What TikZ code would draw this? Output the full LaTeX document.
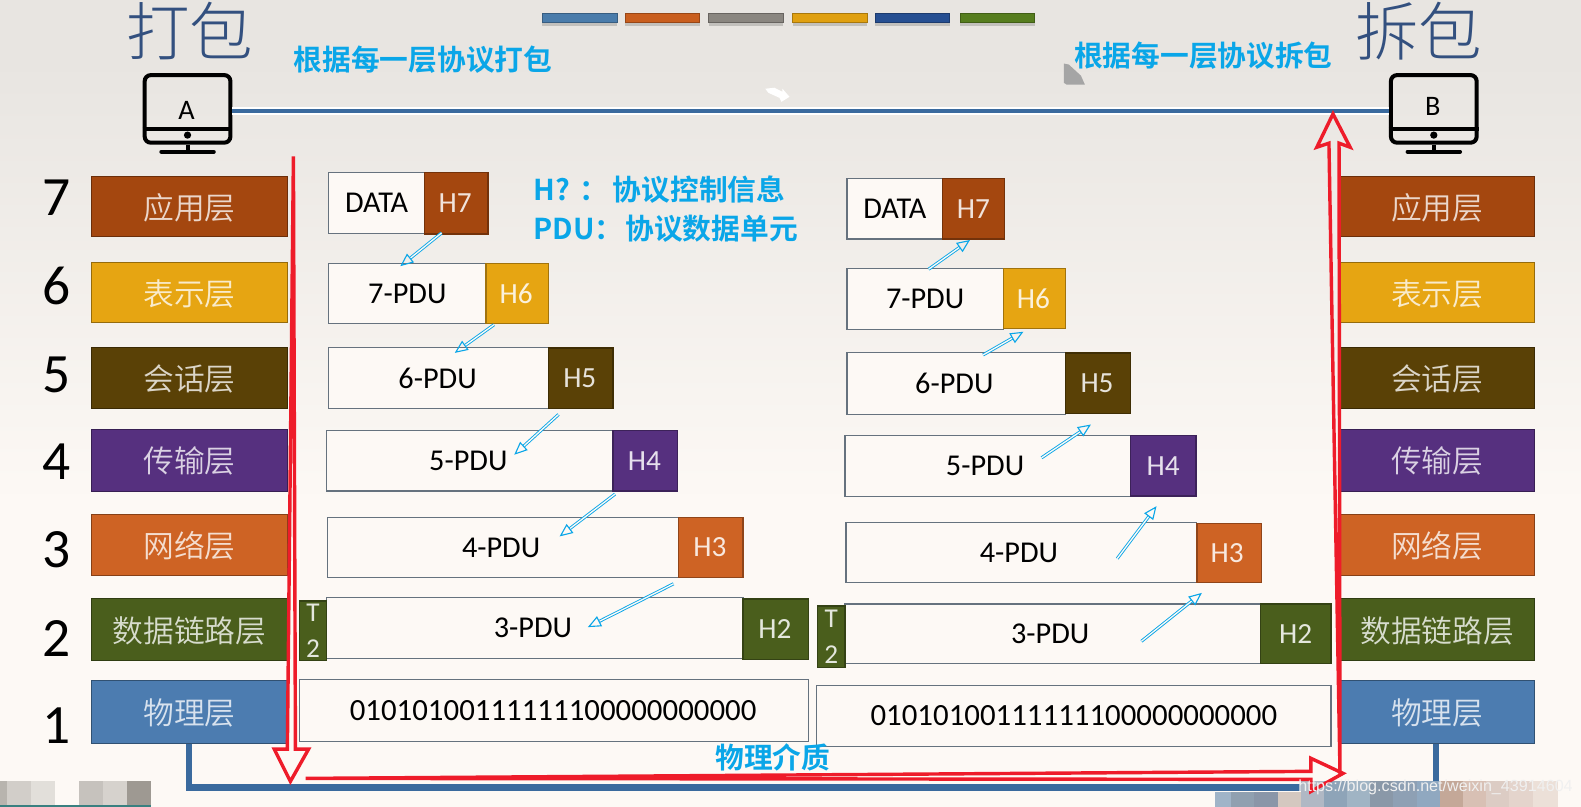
\documentclass[tikz,border=0pt]{standalone}
\usepackage{fontspec}
\usetikzlibrary{arrows.meta}
\setmainfont{Carlito}
\newfontfamily\cjk{Noto Sans CJK SC Light}
\newfontfamily\cjkm{Noto Sans CJK SC DemiLight}
\newfontfamily\cjkb{Noto Sans CJK SC Bold}
\newfontfamily\wm{Liberation Sans}
\definecolor{bgtop}{HTML}{E8E5E1}
\definecolor{bgbot}{HTML}{FDF9F5}
\definecolor{cApp}{HTML}{A4470F}
\definecolor{cPre}{HTML}{E6A512}
\definecolor{cSes}{HTML}{5A4106}
\definecolor{cTra}{HTML}{56307F}
\definecolor{cNet}{HTML}{CE6324}
\definecolor{cDat}{HTML}{4A5E1C}
\definecolor{cPhy}{HTML}{4C7CB0}
\definecolor{cyanT}{HTML}{0AA6E8}
\definecolor{wire}{HTML}{3A6A9E}
\definecolor{redA}{HTML}{EE1C2A}
\definecolor{pktedge}{HTML}{66727E}
\definecolor{titlec}{HTML}{33507F}
\tikzset{
  layerbox/.style={draw=#1!65!black,fill=#1,line width=1pt,inner sep=0pt,text=#1!22!white,text height=29pt,text depth=4pt,font=\cjkm\fontsize{30.5}{32}\selectfont},
  pktbox/.style={draw=pktedge,fill=bgbot,line width=1.1pt,inner sep=0pt,text=black,font=\fontsize{30}{32}\selectfont},
  bitbox/.style={pktbox,font=\fontsize{30.6}{32}\selectfont},
  hdrbox/.style={draw=#1!70!black,fill=#1,line width=1.3pt,inner sep=0pt,text=#1!15!white,font=\fontsize{29}{31}\selectfont},
  trailbox/.style={hdrbox=cDat,align=center,font=\fontsize{27}{35}\selectfont},
  bluetext/.style={text=cyanT,inner sep=0pt,font=\cjkb\fontsize{28.5}{30}\selectfont},
  numtext/.style={text=black,inner sep=0pt,font=\fontsize{55}{57}\selectfont},
  titletext/.style={text=titlec,inner sep=0pt,font=\cjk\fontsize{63}{66}\selectfont},
  bluearrow/.style={draw=cyanT,line width=.9pt,double=bgbot,double distance=1.3pt,-{Triangle[open,length=13pt,width=11pt,line width=1.1pt]}},
  redpoly/.style={draw=redA,line width=3.4pt,line join=miter},
  wirehalo/.style={draw=white,line width=8pt},
  wireline/.style={draw=wire,line width=4.5pt},
  monitor/.style={draw=black,line width=4pt,rounded corners=6pt,fill=none,inner sep=0pt,minimum width=85pt,minimum height=67pt},
  mono/.style={line width=4pt,draw=black},
}
\newcommand\bx[7]{%
  \pgfmathsetmacro\bxcx{(#2+#4)/2}\pgfmathsetmacro\bxcy{(#3+#5)/2}%
  \pgfmathsetmacro\bxw{#4-#2}\pgfmathsetmacro\bxh{#5-#3}%
  \node[#6,minimum width=\bxw pt,minimum height=\bxh pt] (#1) at (\bxcx,\bxcy) {#7};}
\begin{document}
\begin{tikzpicture}[x=1pt,y=-1pt]
\useasboundingbox (0,0) rectangle (1568,800);
% background
\shade[top color=bgtop,bottom color=bgbot] (0,60) rectangle (1568,500);
\fill[bgtop] (0,0) rectangle (1568,60);
\fill[bgbot] (0,500) rectangle (1568,800);
% top colour bars
\foreach \xa/\c [evaluate=\xa as \xb using \xa+74] in {538/4A7CAB,620/C95E1E,703/8A8680,786/E0A010,868/264F92,952/567D1E}{
  \definecolor{tmpc}{HTML}{\c}
  \fill[black,opacity=.16] (\xa,17) rectangle (\xb,26);
  \fill[tmpc] (\xa,13) rectangle (\xb,22);
  \draw[tmpc!75!black,line width=.8pt] (\xa,13) rectangle (\xb,22);
}
% titles
\node[titletext] (t1) at (188,31) {打包};
\node[titletext] (t2) at (1407,31) {拆包};
\node[bluetext] (n1) at (419.5,59) {根据每一层协议打包};
\node[bluetext] (n2) at (1193.5,55) {根据每一层协议拆包};
\node[bluetext,anchor=west] (n3) at (529,188) {H?\hspace{9pt}：\hspace{5pt}协议控制信息};
\node[bluetext,anchor=west] (n4) at (529,227) {PDU：\hspace{2pt}协议数据单元};
% small marks
\fill[white] (759,88) -- (768,87) -- (776,91) -- (776,88) -- (783,96) -- (775,101) -- (773,97) -- (762,92) -- cycle;
\fill[black!8!gray!65!white] (1055,63) -- (1060,64) -- (1072,75) -- (1076,84) -- (1058,84) -- (1055,82) -- cycle;
% monitors
\node[monitor] (monA) at (186,108) {};
\node[monitor] (monB) at (1422,108) {};
\node[font=\fontsize{28}{30}\selectfont,inner sep=0pt] (la) at (185,110) {A};
\node[font=\fontsize{28}{30}\selectfont,inner sep=0pt] (lb) at (1421,106) {B};
\foreach \m in {monA,monB}{
  \draw[mono] ([yshift=-20pt]\m.west) -- ([yshift=-20pt]\m.east);
  \fill[black] ([yshift=-26pt]\m.center) circle (3.6pt);
  \draw[mono] (\m.south) -- ++(0,6);
  \draw[mono,line cap=round] ([xshift=-26pt,yshift=-7pt]\m.south) -- ([xshift=26pt,yshift=-7pt]\m.south);
}
\draw[wirehalo] ([yshift=-2pt]monA.east) -- ([yshift=-2pt]monB.west);
\draw[wireline] ([yshift=-2pt]monA.east) -- ([yshift=-2pt]monB.west);
% numbers
\foreach \n/\y in {7/196,6/284,5/372,4/458,3/545,2/633,1/720}{
  \node[numtext] (num\n) at (56,\y) {\n};
}
% left layer boxes
\bx{L7}{91}{175}{285}{235}{layerbox=cApp}{应用层}
\bx{L6}{91}{260}{285}{320}{layerbox=cPre}{表示层}
\bx{L5}{91}{345}{285}{405}{layerbox=cSes}{会话层}
\bx{L4}{91}{426}{285}{487}{layerbox=cTra}{传输层}
\bx{L3}{91}{510}{285}{571}{layerbox=cNet}{网络层}
\bx{L2}{91}{594}{285}{655}{layerbox=cDat}{数据链路层}
\bx{L1}{91}{675}{285}{737}{layerbox=cPhy}{物理层}
% right layer boxes
\bx{R7}{1329}{175}{1522}{235}{layerbox=cApp}{应用层}
\bx{R6}{1329}{260}{1522}{320}{layerbox=cPre}{表示层}
\bx{R5}{1329}{345}{1522}{405}{layerbox=cSes}{会话层}
\bx{R4}{1329}{426}{1522}{487}{layerbox=cTra}{传输层}
\bx{R3}{1329}{510}{1522}{571}{layerbox=cNet}{网络层}
\bx{R2}{1329}{594}{1522}{655}{layerbox=cDat}{数据链路层}
\bx{R1}{1329}{675}{1522}{737}{layerbox=cPhy}{物理层}
% left packets
\bx{aD}{326}{171}{421}{232}{pktbox}{DATA}
\bx{aH7}{421}{171}{484}{232}{hdrbox=cApp}{H7\kern2pt}
\bx{aP7}{326}{261}{482}{321}{pktbox}{7-PDU}
\bx{aH6}{482}{261}{544}{321}{hdrbox=cPre}{H6\kern2pt}
\bx{aP6}{326}{345}{544}{405}{pktbox}{6-PDU\kern2pt}
\bx{aH5}{544}{345}{608}{405}{hdrbox=cSes}{H5\kern2pt}
\bx{aP5}{324}{427}{608}{487}{pktbox}{5-PDU\kern3pt}
\bx{aH4}{608}{427}{672}{487}{hdrbox=cTra}{H4\kern2pt}
\bx{aP4}{325}{513}{673}{573}{pktbox}{4-PDU\kern4pt}
\bx{aH3}{673}{513}{737}{573}{hdrbox=cNet}{H3\kern2pt}
\bx{aP3}{324}{593}{737}{653}{pktbox}{3-PDU\kern4pt}
\bx{aH2}{737}{594}{802}{654}{hdrbox=cDat}{H2\kern2pt}
\bx{aT2}{297}{596}{324}{655}{trailbox}{T\\2}
\bx{aB}{297}{674}{802}{735}{bitbox}{01010100111111100000000000\kern2pt}
% right packets
\bx{bD}{840}{177}{935}{237}{pktbox}{DATA}
\bx{bH7}{935}{177}{996}{237}{hdrbox=cApp}{H7}
\bx{bP7}{840}{266}{995}{327}{pktbox}{7-PDU}
\bx{bH6}{995}{266}{1057}{326}{hdrbox=cPre}{H6\kern2pt}
\bx{bP6}{840}{350}{1057}{411}{pktbox}{6-PDU\kern4pt}
\bx{bH5}{1057}{350}{1121}{410}{hdrbox=cSes}{H5\kern2pt}
\bx{bP5}{838}{432}{1121}{492}{pktbox}{5-PDU\kern5pt}
\bx{bH4}{1121}{432}{1186}{492}{hdrbox=cTra}{H4}
\bx{bP4}{839}{518}{1187}{578}{pktbox}{4-PDU\kern5pt}
\bx{bH3}{1187}{519}{1251}{578}{hdrbox=cNet}{H3\kern4pt}
\bx{bP3}{838}{599}{1250}{658}{pktbox}{3-PDU\kern5pt}
\bx{bH2}{1250}{599}{1320}{658}{hdrbox=cDat}{H2}
\bx{bT2}{811}{601}{838}{662}{trailbox}{T\\2}
\bx{bB}{810}{680}{1320}{740}{bitbox}{01010100111111100000000000}
% blue arrows, free ends
\coordinate (a1s) at (438,231); \coordinate (a1e) at (397,264);
\coordinate (a2s) at (490,322); \coordinate (a2e) at (451,350);
\coordinate (a3s) at (554,411); \coordinate (a3e) at (510,451);
\coordinate (a4s) at (610,490); \coordinate (a4e) at (555,532);
\coordinate (a5s) at (668,579); \coordinate (a5e) at (583,622);
\coordinate (b1s) at (921,267); \coordinate (b1e) at (962,238);
\coordinate (b2s) at (975,352); \coordinate (b2e) at (1015,329);
\coordinate (b3s) at (1033,454); \coordinate (b3e) at (1082,421);
\coordinate (b4s) at (1108,554); \coordinate (b4e) at (1147,502);
\coordinate (b5s) at (1132,636); \coordinate (b5e) at (1192,588);
\foreach \k in {a1,a2,a3,a4,a5,b1,b2,b3,b4,b5}{\draw[bluearrow] (\k s) -- (\k e);}
% physical medium
\node[bluetext] (n5) at (766.5,751) {物理介质};
\coordinate (wLb) at (187.5,781);
\coordinate (wRb) at (1424,781);
\draw[wireline,line width=6pt,line join=miter] (L1.south -| wLb) -- (wLb) -- (wRb) -- (R1.south -| wRb);
% mosaics
\foreach \xa/\xb/\c in {0/7/B8B4AE,7/31/D2CEC9,31/55/E2DFDA,78/102/C6C2BD,102/126/D6D2CD,126/150/9E9992}{
  \definecolor{tmpc}{HTML}{\c}\fill[tmpc] (\xa,775) rectangle (\xb,800);
}
\fill[teal!55!gray] (0,798) rectangle (150,800);
\foreach \xa/\xb/\yt/\c in {1205/1221/785/A0B4C8,1221/1244/785/90A0B0,1244/1267/785/8A96A8,1267/1290/785/D4C8C0,1290/1313/775/B0B8C4,1313/1336/775/8EA4B8,1336/1359/775/A0B4C4,1359/1382/775/8A98A8,1382/1405/775/8EA0B4,1405/1428/775/90A8C0,1428/1451/775/C4A898,1451/1474/775/D8C0B4,1474/1497/775/DCCCC4,1497/1520/775/E4D4CC,1520/1545/775/ECE0D8}{
  \definecolor{tmpc}{HTML}{\c}\fill[tmpc] (\xa,\yt) rectangle (\xb,800);
}
% red arrows
\draw[redpoly] (291,155) -- (293,743) -- (306,743) -- (288,775) -- (272,743) -- (285,743) -- cycle;
\draw[redpoly] (303,772) -- (1300,765) -- (1300,752) -- (1332,767) -- (1300,785) -- (1300,773) -- cycle;
\draw[redpoly] (1329,768) -- (1328,142) -- (1339,146) -- (1322,113) -- (1306,146) -- (1318,142) -- cycle;
% watermark
\node[text=white!88!gray,font=\wm\fontsize{16}{18}\selectfont,inner sep=0pt,anchor=east] (wmk) at (1560,781) {https://blog.csdn.net/weixin\_43914604};
\end{tikzpicture}
\end{document}
